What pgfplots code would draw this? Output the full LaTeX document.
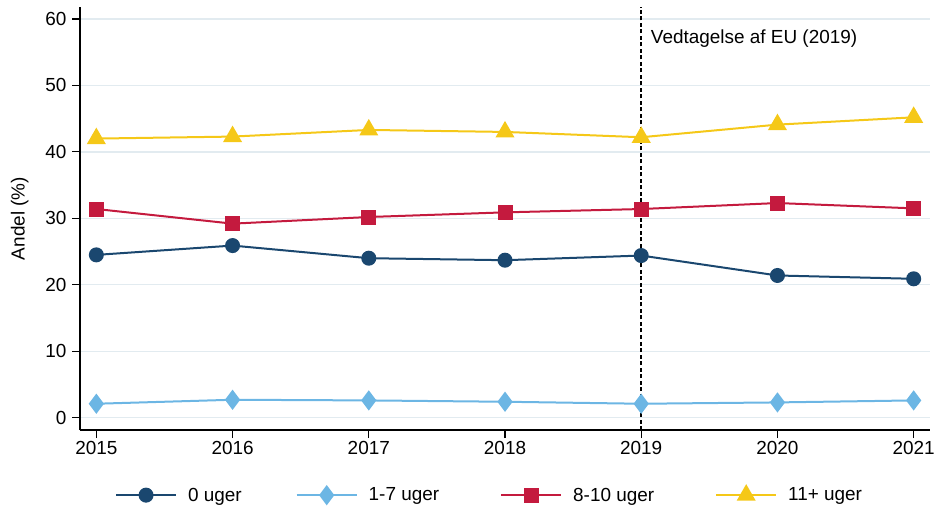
\documentclass[border=0pt]{standalone}
\usepackage{pgfplots}
\pgfplotsset{compat=1.18}
\usetikzlibrary{calc}
\usepackage{fontspec}
\setmainfont{Liberation Sans}
\definecolor{cNavy}{RGB}{26,71,111}
\definecolor{cLight}{RGB}{108,182,228}
\definecolor{cRed}{RGB}{196,26,62}
\definecolor{cGold}{RGB}{245,200,24}
\definecolor{cGrid}{RGB}{226,235,240}
\begin{document}
\begin{tikzpicture}[x=1bp,y=1bp]
\begin{axis}[
  name=main,
  scale only axis,
  width=850bp, height=423bp,
  xmin=2014.88, xmax=2021.12,
  ymin=-1.85, ymax=61.8,
  axis x line*=bottom, axis y line*=left,
  axis line style={line width=1.3bp, black, -},
  xtick={2015,2016,2017,2018,2019,2020,2021},
  ytick={0,10,20,30,40,50,60},
  tick align=outside,
  major tick length=8bp,
  tick style={line width=1.2bp, black},
  ymajorgrids,
  grid style={cGrid, line width=1.3bp},
  /pgf/number format/assume math mode=true,
  /pgf/number format/1000 sep={},
  tick label style={font=\fontsize{19}{21}\selectfont},
  yticklabel style={xshift=-2bp},
  ylabel={Andel (\%)},
  ylabel style={font=\fontsize{19}{21}\selectfont, at={(rel axis cs:-0.071,0.5)}, anchor=center},
  clip=false,
  legend columns=4,
  legend style={draw=none, fill=none, at={(rel axis cs:0.041,-0.154)}, anchor=west, inner sep=0pt,
    font=\fontsize{19}{21}\selectfont,
    /tikz/every odd column/.append style={column sep=9bp},
    /tikz/every even column/.append style={column sep=49bp}},
  legend image code/.code={\draw[mark repeat=2, mark phase=2, #1] plot coordinates {(0bp,0bp) (30bp,0bp) (60bp,0bp)};},
]
\draw[dash pattern=on 4bp off 2.5bp, line width=2bp, black] (axis cs:2019,-1.85) -- (axis cs:2019,61.8);
\addplot[cNavy, line width=2bp, mark=*, mark size=6.5bp, mark options={solid, fill=cNavy, draw=cNavy}] coordinates {
(2015,24.5) (2016,25.9) (2017,24.0) (2018,23.7) (2019,24.4) (2020,21.4) (2021,20.9)};
\addlegendentry{0 uger\rule{3bp}{0pt}}
\addplot[cLight, line width=2bp, mark=diamond*, mark size=8.5bp, mark options={solid, fill=cLight, draw=cLight}] coordinates {
(2015,2.1) (2016,2.7) (2017,2.6) (2018,2.4) (2019,2.1) (2020,2.3) (2021,2.6)};
\addlegendentry{1-7 uger\rule{10bp}{0pt}}
\addplot[cRed, line width=2bp, mark=square*, mark size=6.5bp, mark options={solid, fill=cRed, draw=cRed}] coordinates {
(2015,31.4) (2016,29.2) (2017,30.2) (2018,30.9) (2019,31.4) (2020,32.3) (2021,31.5)};
\addlegendentry{8-10 uger\rule{10bp}{0pt}}
\addplot[cGold, line width=2bp, mark=triangle*, mark size=9bp, mark options={solid, fill=cGold, draw=cGold}] coordinates {
(2015,42.0) (2016,42.3) (2017,43.3) (2018,43.0) (2019,42.2) (2020,44.1) (2021,45.2)};
\addlegendentry{11+ uger}
\node[anchor=west, font=\fontsize{19}{21}\selectfont, inner sep=0pt] at (axis cs:2019.07,57.0) {Vedtagelse af EU (2019)};
\coordinate (BL) at (rel axis cs:0,0);
\end{axis}
\pgfresetboundingbox
\path[use as bounding box] ($(BL)+(-80bp,-81bp)$) rectangle ($(BL)+(855bp,430bp)$);
\end{tikzpicture}
\end{document}
